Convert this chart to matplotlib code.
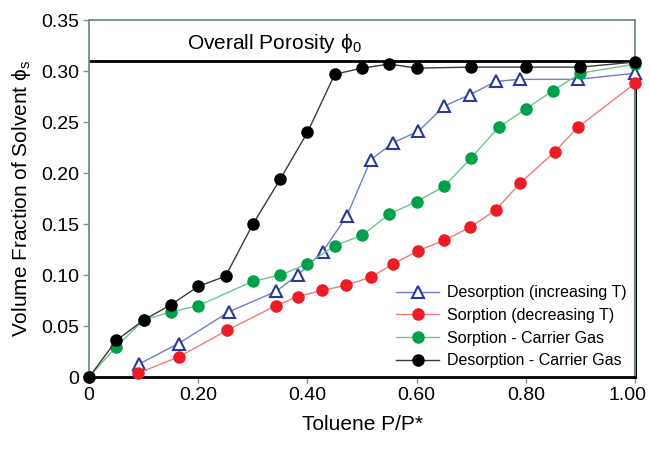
import matplotlib.pyplot as plt
import matplotlib.transforms as mtransforms

plt.rcParams['font.family'] = ['Liberation Sans', 'DejaVu Sans']
plt.rcParams['mathtext.default'] = 'regular'

# Desorption (increasing T) - open triangles
x_des_t = [0.092, 0.164, 0.256, 0.342, 0.382, 0.428, 0.472, 0.516, 0.557, 0.603,
           0.651, 0.698, 0.745, 0.789, 0.895, 1.00]
y_des_t = [0.013, 0.033, 0.064, 0.084, 0.100, 0.123, 0.158, 0.213, 0.230, 0.241,
           0.266, 0.277, 0.290, 0.292, 0.292, 0.298]

# Sorption (decreasing T)
x_sor_t = [0.090, 0.165, 0.253, 0.342, 0.382, 0.427, 0.470, 0.516, 0.557, 0.603,
           0.650, 0.698, 0.745, 0.789, 0.853, 0.895, 1.00]
y_sor_t = [0.004, 0.020, 0.046, 0.070, 0.079, 0.085, 0.090, 0.098, 0.111, 0.124,
           0.134, 0.147, 0.164, 0.190, 0.221, 0.245, 0.288]

# Sorption - Carrier Gas
x_sor_g = [0, 0.05, 0.10, 0.15, 0.20, 0.30, 0.35, 0.40, 0.45, 0.50, 0.55, 0.60,
           0.65, 0.70, 0.75, 0.80, 0.85, 0.90, 1.00]
y_sor_g = [0, 0.030, 0.056, 0.064, 0.070, 0.094, 0.100, 0.111, 0.129, 0.139, 0.160,
           0.172, 0.187, 0.215, 0.245, 0.263, 0.281, 0.298, 0.307]

# Desorption - Carrier Gas
x_des_g = [0, 0.05, 0.10, 0.15, 0.20, 0.25, 0.30, 0.35, 0.40, 0.45, 0.50, 0.55,
           0.60, 0.70, 0.80, 0.90, 1.00]
y_des_g = [0, 0.036, 0.056, 0.071, 0.089, 0.099, 0.150, 0.194, 0.240, 0.297, 0.303,
           0.307, 0.303, 0.304, 0.304, 0.304, 0.309]

porosity = 0.31
x_ticks = [0, 0.2, 0.4, 0.6, 0.8, 1.0]
x_labels = ['0', '0.20', '0.40', '0.60', '0.80', '1.00']
y_ticks = [0, 0.05, 0.10, 0.15, 0.20, 0.25, 0.30, 0.35]
y_labels = ['0', '0.05', '0.10', '0.15', '0.20', '0.25', '0.30', '0.35']

fig = plt.figure(figsize=(6.5, 4.49), dpi=100)
ax = fig.add_axes([0.137, 0.160, 0.840, 0.795])

ax.axhline(porosity, color='black', lw=2, zorder=1)
ax.plot([1.0, 1.0], [0, porosity], color='black', lw=2.2, zorder=1, clip_on=False)

ax.plot(x_des_t, y_des_t, color='#6f7fc4', lw=1, marker='^', ms=8, mfc='white',
        mec='#2b3a97', mew=1.5, label='Desorption (increasing T)', clip_on=False, zorder=3)
ax.plot(x_sor_t, y_sor_t, color='#f07a7a', lw=1, marker='o', ms=8, mfc='#ed1c24',
        mec='#ed1c24', label='Sorption (decreasing T)', clip_on=False, zorder=3)
ax.plot(x_sor_g, y_sor_g, color='#6cc490', lw=1, marker='o', ms=8, mfc='#00a14b',
        mec='#00a14b', label='Sorption - Carrier Gas', clip_on=False, zorder=3)
ax.plot(x_des_g, y_des_g, color='#3a3a3a', lw=1, marker='o', ms=8, mfc='black',
        mec='black', label='Desorption - Carrier Gas', clip_on=False, zorder=4)

ax.text(0.34, 0.327, 'Overall Porosity \u03d5$_0$', ha='center', va='center', fontsize=15)

ax.set_xlim(0, 1.0)
ax.set_ylim(0, 0.35)
ax.set_xticks(x_ticks)
ax.set_xticklabels(x_labels)
ax.set_yticks(y_ticks)
ax.set_yticklabels(y_labels)
ax.tick_params(labelsize=14, length=4, width=1, color='#7f8f8e', pad=3)

# last x label sits a little left of its tick so it stays inside the figure
last = ax.get_xticklabels()[-1]
last.set_transform(last.get_transform() +
                   mtransforms.ScaledTranslation(-8 / 100, 0, fig.dpi_scale_trans))

for side in ['left', 'top', 'right']:
    ax.spines[side].set_color('#6f8c8a')
    ax.spines[side].set_linewidth(1.3)
ax.spines['bottom'].set_color('black')
ax.spines['bottom'].set_linewidth(2)

ax.set_xlabel('Toluene P/P*', fontsize=15, labelpad=8)
ax.set_ylabel('Volume Fraction of Solvent \u03d5$_s$', fontsize=15, labelpad=6)

ax.legend(loc='lower right', frameon=False, fontsize=11.5, handlelength=2.7,
          handletextpad=0.45, labelspacing=0.48, borderaxespad=0.15)

fig.savefig('out.png', dpi=100)
